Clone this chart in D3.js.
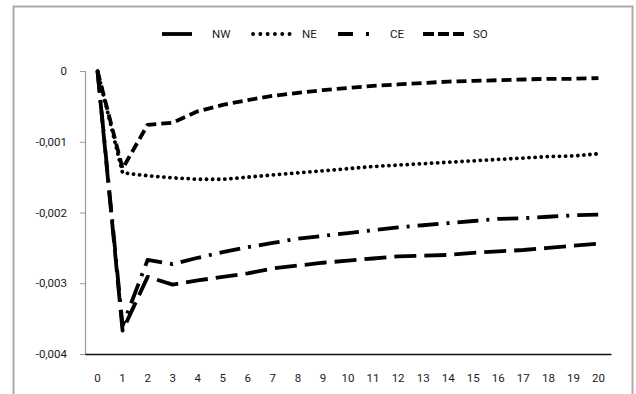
<!DOCTYPE html>
<html>
<head>
<meta charset="utf-8">
<script src="https://cdn.jsdelivr.net/npm/d3@7"></script>
<style>
  html, body { margin: 0; padding: 0; background: #fff; }
  svg { display: block; }
  text { font-family: Roboto, "Liberation Sans", sans-serif; fill: #1a1a1a; }
</style>
</head>
<body>
<svg id="chart" width="636" height="394"></svg>
<script>
// Periods after the shock
const periods = d3.range(0, 21);

// Impulse responses by region
const NW = [0, -0.00367, -0.00291, -0.00302, -0.00296, -0.00291, -0.00286, -0.00279, -0.00275, -0.00271,
            -0.00268, -0.00265, -0.00262, -0.00261, -0.00260, -0.00257, -0.00255, -0.00253, -0.00250, -0.00247, -0.00244];
const NE = [0, -0.00144, -0.00148, -0.00151, -0.00153, -0.00153, -0.00150, -0.00147, -0.00144, -0.00141,
            -0.00138, -0.00135, -0.00133, -0.00131, -0.00129, -0.00127, -0.00125, -0.00123, -0.00121, -0.00120, -0.00117];
const CE = [0, -0.00360, -0.00267, -0.00273, -0.00264, -0.00256, -0.00249, -0.00243, -0.00237, -0.00233,
            -0.00229, -0.00225, -0.00221, -0.00218, -0.00215, -0.00212, -0.00209, -0.00208, -0.00206, -0.00204, -0.00203];
const SO = [0, -0.00138, -0.00076, -0.00073, -0.00057, -0.00048, -0.00041, -0.00035, -0.00031, -0.00027,
            -0.00024, -0.00021, -0.00019, -0.00017, -0.00015, -0.00014, -0.00013, -0.00012, -0.00011, -0.00011, -0.00010];

const seriesNames = ["NW", "NE", "CE", "SO"];
const yTicks = [0, -0.001, -0.002, -0.003, -0.004];

const seriesData = { NW, NE, CE, SO };
const lineStyle = {
  NW: { dash: "22,8", cap: "butt" },
  NE: { dash: "0.1,6", cap: "round" },
  CE: { dash: "21,8,3,8", cap: "butt" },
  SO: { dash: "10,5", cap: "butt" }
};
const legendDash = {
  NW: "none",
  NE: "0.1,7.2",
  CE: "15,13,3,100",
  SO: "11,4"
};

const svg = d3.select("#chart");

// chart frame
svg.append("rect")
  .attr("x", 13.5).attr("y", 6.5)
  .attr("width", 619).attr("height", 400)
  .attr("fill", "#fff")
  .attr("stroke", "#aaaaaa")
  .attr("stroke-width", 2);

const plot = { left: 85, right: 611, top: 71, bottom: 354 };

const x = d3.scaleBand()
  .domain(periods)
  .range([plot.left, plot.right]);

const y = d3.scaleLinear()
  .domain([-0.004, 0])
  .range([plot.bottom, plot.top]);

const fmt = v => v === 0 ? "0" : d3.format(".3f")(v).replace(".", ",").replace("−", "-");

// y axis
const yAxis = svg.append("g")
  .attr("transform", `translate(${plot.left},0)`)
  .call(d3.axisLeft(y).tickValues(yTicks).tickFormat(fmt).tickSize(5).tickPadding(13));
yAxis.select(".domain").attr("stroke", "#9a9a9a").attr("stroke-width", 1.2);
yAxis.selectAll(".tick line").attr("stroke", "#9a9a9a");
yAxis.selectAll(".tick text").attr("font-size", 11.5).attr("fill", "#1a1a2a");

// x axis
const xAxis = svg.append("g")
  .attr("transform", `translate(0,${plot.bottom})`)
  .call(d3.axisBottom(x).tickSize(0).tickPadding(20));
xAxis.select(".domain").attr("stroke", "#111").attr("stroke-width", 1.5);
xAxis.selectAll(".tick text").attr("font-size", 11.5).attr("fill", "#1a1a2a");

// response lines
const line = d3.line()
  .x((d, i) => x(periods[i]) + x.bandwidth() / 2)
  .y(d => y(d));

seriesNames.forEach(name => {
  svg.append("path")
    .datum(seriesData[name])
    .attr("d", line)
    .attr("fill", "none")
    .attr("stroke", "#000")
    .attr("stroke-width", 3.8)
    .attr("stroke-linejoin", "round")
    .attr("stroke-linecap", lineStyle[name].cap)
    .attr("stroke-dasharray", lineStyle[name].dash);
});

// legend
const legendItems = [
  { name: "NW", x0: 162, x1: 192, tx: 212 },
  { name: "NE", x0: 253, x1: 296, tx: 302 },
  { name: "CE", x0: 338, x1: 370, tx: 390 },
  { name: "SO", x0: 423, x1: 468, tx: 473 }
];
const legend = svg.append("g");
legendItems.forEach(it => {
  legend.append("line")
    .attr("x1", it.x0).attr("x2", it.x1)
    .attr("y1", 34).attr("y2", 34)
    .attr("stroke", "#000")
    .attr("stroke-width", 3.8)
    .attr("stroke-linecap", it.name === "NE" ? "round" : "butt")
    .attr("stroke-dasharray", legendDash[it.name]);
  legend.append("text")
    .attr("x", it.tx).attr("y", 34)
    .attr("dy", "0.35em")
    .attr("font-size", 11.5)
    .text(it.name);
});
</script>
</body>
</html>
